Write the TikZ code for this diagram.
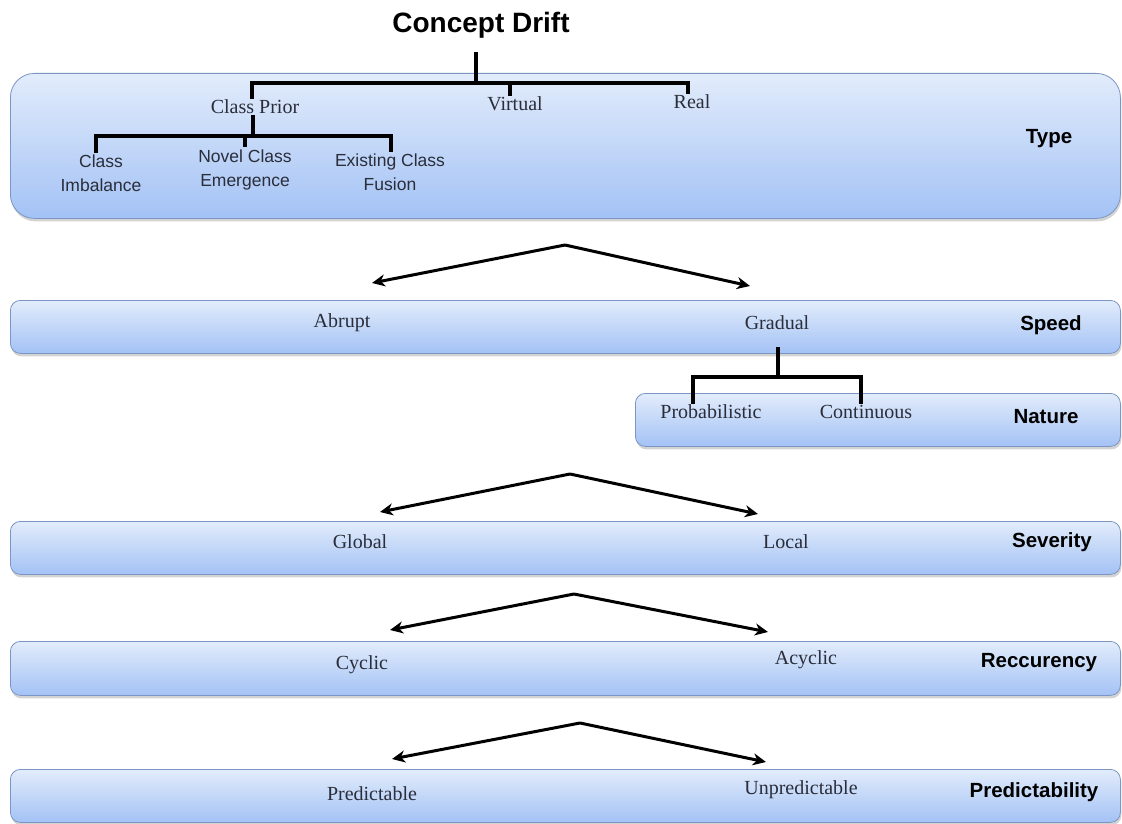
\documentclass[tikz,border=0pt]{standalone}
\usepackage{fontspec}
\setmainfont{Liberation Serif}
\setsansfont{Liberation Sans}
\usetikzlibrary{shadows,arrows.meta}
\definecolor{bandtop}{HTML}{E2ECFB}
\definecolor{bandbot}{HTML}{A3C2F5}
\definecolor{bandedge}{HTML}{7B96C4}
\definecolor{txt}{HTML}{2A2D3A}
\begin{document}
\begin{tikzpicture}[x=1pt,y=-1pt,
  band/.style={draw=bandedge, line width=0.8pt, top color=bandtop, bottom color=bandbot,
    rounded corners=10pt, anchor=north west, inner sep=0pt,
    drop shadow={shadow xshift=1pt, shadow yshift=-3pt, opacity=0.35}},
  ser/.style={font=\fontsize{20}{22}\selectfont, text=txt, inner sep=1pt},
  sans/.style={font=\sffamily\fontsize{17.5}{24}\selectfont, text=txt, align=center, inner sep=1pt},
  lbl/.style={font=\sffamily\bfseries\fontsize{20.5}{22}\selectfont, text=black, inner sep=0pt},
  tree/.style={line width=3.2pt, black},
  arr/.style={line width=3pt, black, -{Stealth[length=13pt,width=12pt,inset=4pt]}}]
\useasboundingbox (0,0) rectangle (1122,824);

% bands
\node[band, rounded corners=24pt, minimum width=1110pt, minimum height=145pt] (typebox) at (10,73) {};
\node[band, minimum width=1110pt, minimum height=53pt] (speedbox) at (10,300) {};
\node[band, minimum width=485pt, minimum height=53pt] (naturebox) at (635,393) {};
\node[band, minimum width=1110pt, minimum height=53pt] (sevbox) at (10,521) {};
\node[band, minimum width=1110pt, minimum height=54pt] (recbox) at (10,641) {};
\node[band, minimum width=1110pt, minimum height=53pt] (predbox) at (10,769) {};

% title
\node[font=\sffamily\bfseries\fontsize{28}{30}\selectfont, inner sep=0pt] (cd) at (481,25) {Concept Drift};

% Type band
\node[ser] (cp) at (255,107) {Class Prior};
\node[ser] (vt) at (515,104) {Virtual};
\node[ser] (rl) at (692,102) {Real};
\node[sans] (ci) at (101,173) {Class\\Imbalance};
\node[sans] (nc) at (245,170) {Novel Class\\Emergence};
\node[sans] (ef) at (390,172) {Existing Class\\Fusion};
\node[lbl] (ty) at (1049,139) {Type};

\coordinate (t0) at (476,52);
\coordinate (j0) at (476,83);
\coordinate (j1) at (253,136);
\draw[tree] (t0) -- (j0);
\draw[tree] ([xshift=-3pt]cp.north) -- ([xshift=-3pt]cp.north |- j0) -- ([xshift=-4pt]rl.north |- j0) -- ([xshift=-4pt]rl.north);
\draw[tree] ([xshift=-5pt]vt.north) -- ([xshift=-5pt]vt.north |- j0);
\draw[tree] (cp.south -| j1) -- (j1);
\draw[tree] ([xshift=-5pt]ci.north) -- ([xshift=-5pt]ci.north |- j1) -- ([xshift=1pt]ef.north |- j1) -- ([xshift=1pt]ef.north);
\draw[tree] ([yshift=2pt]nc.north) -- (nc.north |- j1);

% Speed band
\node[ser] (ab) at (342,323) {Abrupt};
\node[ser] (gr) at (777,323) {Gradual};
\node[lbl] (sp) at (1051,325) {Speed};
\coordinate (a1) at (565,245);
\coordinate (a1l) at (372,283);
\coordinate (a1r) at (750,286);
\draw[arr] (a1) -- (a1l);
\draw[arr] (a1) -- (a1r);

% Nature band
\node[ser] (pb) at (711,412) {Probabilistic};
\node[ser] (cn) at (866,412) {Continuous};
\node[lbl] (na) at (1046,417) {Nature};
\coordinate (g0) at (778,347);
\coordinate (j2) at (778,377);
\draw[tree] (g0) -- (j2);
\draw[tree] ([xshift=-18pt]pb.north) -- ([xshift=-18pt]pb.north |- j2) -- ([xshift=-5pt]cn.north |- j2) -- ([xshift=-5pt]cn.north);

% Severity band
\node[ser] (gl) at (360,542) {Global};
\node[ser] (lc) at (786,542) {Local};
\node[lbl] (sv) at (1052,542) {Severity};
\coordinate (a2) at (570,474);
\coordinate (a2l) at (380,512);
\coordinate (a2r) at (758,514);
\draw[arr] (a2) -- (a2l);
\draw[arr] (a2) -- (a2r);

% Reccurency band
\node[ser] (cy) at (362,665) {Cyclic};
\node[ser] (ac) at (806,660) {Acyclic};
\node[lbl] (rc) at (1039,663) {Reccurency};
\coordinate (a3) at (574,594);
\coordinate (a3l) at (390,630);
\coordinate (a3r) at (768,632);
\draw[arr] (a3) -- (a3l);
\draw[arr] (a3) -- (a3r);

% Predictability band
\node[ser] (pr) at (372,794) {Predictable};
\node[ser] (up) at (801,790) {Unpredictable};
\node[lbl] (pd) at (1034,792) {Predictability};
\coordinate (a4) at (580,723);
\coordinate (a4l) at (392,759);
\coordinate (a4r) at (766,762);
\draw[arr] (a4) -- (a4l);
\draw[arr] (a4) -- (a4r);
\end{tikzpicture}
\end{document}
